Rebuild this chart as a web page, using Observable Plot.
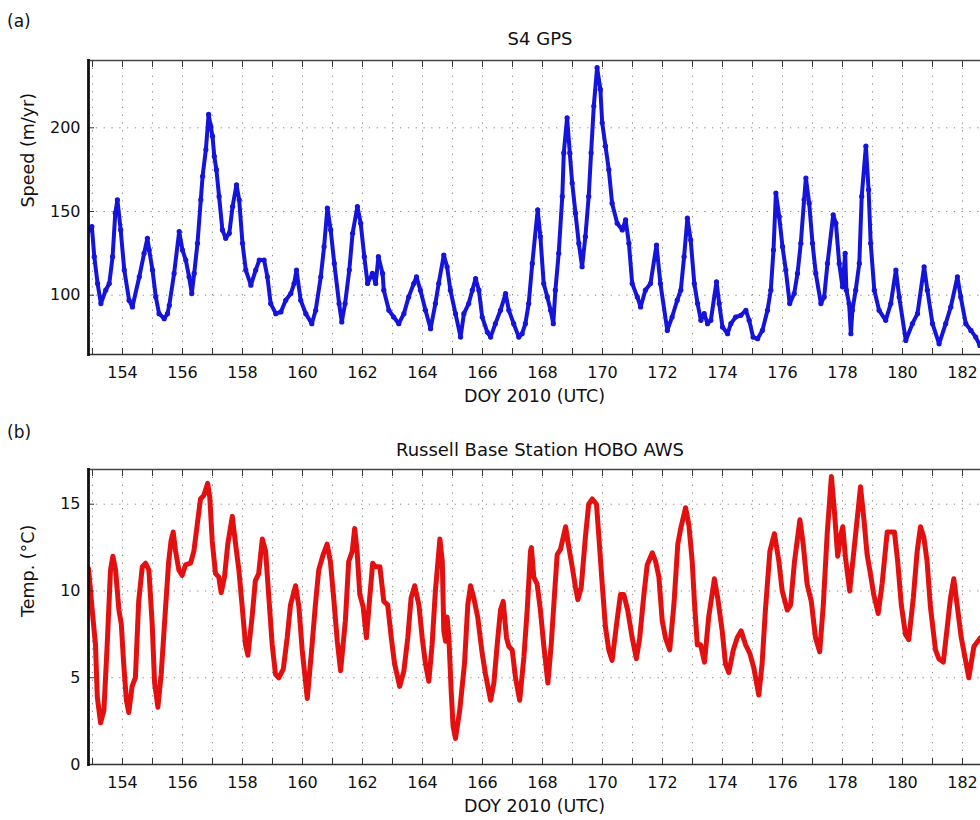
<!DOCTYPE html>
<html>
<head>
<meta charset="utf-8">
<script src="https://cdn.jsdelivr.net/npm/d3@7"></script>
<script src="https://cdn.jsdelivr.net/npm/@observablehq/plot@0.6"></script>
<style>
  html, body { margin: 0; padding: 0; background: #fff; }
  #wrap { position: relative; width: 980px; height: 820px; overflow: hidden; font-family: "DejaVu Sans", sans-serif; color: #111; }
  .panel { position: absolute; left: 0; }
  .tag { position: absolute; left: 7px; font-size: 17px; line-height: 17px; }
  .title { position: absolute; left: 290px; width: 500px; text-align: center; font-size: 18px; line-height: 18px; }
</style>
</head>
<body>
<div id="wrap">
  <div id="pa" class="panel" style="top:0px"></div>
  <div id="pb" class="panel" style="top:410px"></div>
  <div class="tag" style="top:13px">(a)</div>
  <div class="title" style="top:30px">S4 GPS</div>
  <div class="tag" style="top:424px">(b)</div>
  <div class="title" style="top:441px">Russell Base Station HOBO AWS</div>
</div>
<script>
// ---- Data ----
const gpsDay = [152.9,152.98,153.06,153.17,153.28,153.44,153.56,153.67,153.76,153.83,153.94,154.06,154.22,154.33,154.56,154.72,154.83,154.89,155.0,155.11,155.22,155.39,155.5,155.56,155.72,155.89,156.0,156.11,156.22,156.31,156.39,156.5,156.61,156.67,156.78,156.87,156.94,157.0,157.06,157.13,157.22,157.33,157.44,157.56,157.67,157.8,157.89,158.0,158.11,158.28,158.44,158.56,158.72,158.83,158.94,159.11,159.28,159.44,159.61,159.72,159.8,159.94,160.11,160.31,160.44,160.61,160.72,160.83,160.94,161.06,161.22,161.31,161.42,161.56,161.67,161.83,161.94,162.06,162.17,162.33,162.44,162.53,162.67,162.71,162.88,163.04,163.21,163.38,163.54,163.71,163.8,163.93,164.1,164.27,164.43,164.54,164.71,164.82,164.93,165.1,165.27,165.38,165.54,165.66,165.77,165.88,165.99,166.16,166.27,166.43,166.6,166.77,166.88,167.04,167.21,167.32,167.43,167.54,167.66,167.84,167.93,168.04,168.16,168.27,168.36,168.43,168.54,168.66,168.71,168.82,168.91,168.99,169.1,169.21,169.32,169.43,169.54,169.62,169.71,169.82,169.93,169.99,170.1,170.21,170.32,170.49,170.66,170.77,170.88,170.99,171.16,171.27,171.43,171.6,171.8,171.93,172.16,172.32,172.49,172.61,172.72,172.83,172.94,173.06,173.17,173.28,173.39,173.5,173.61,173.8,173.89,174.0,174.17,174.28,174.44,174.61,174.78,174.89,175.02,175.17,175.33,175.5,175.61,175.7,175.78,175.89,176.0,176.11,176.24,176.39,176.5,176.61,176.72,176.78,176.89,177.0,177.11,177.28,177.39,177.5,177.69,177.78,177.89,178.0,178.09,178.13,178.22,178.28,178.33,178.44,178.56,178.64,178.78,178.87,178.94,179.06,179.22,179.44,179.61,179.78,179.89,180.11,180.33,180.5,180.72,180.83,181.0,181.22,181.44,181.61,181.83,181.94,182.11,182.28,182.44,182.58];
const gpsSpeed = [139,141,123,107,95,103,107,123,149,157,139,115,97,93,111,125,134,127,115,99,89,86,89,94,113,138,127,121,111,101,113,131,157,171,187,208,201,195,183,175,159,139,134,137,153,166,157,131,115,106,115,121,121,111,95,89,90,97,101,107,115,97,89,83,91,111,129,152,139,119,95,84,95,115,137,153,143,123,107,113,107,123,113,103,91,87,83,89,99,107,111,103,91,80,95,107,124,117,103,89,75,89,95,103,110,103,87,78,75,83,91,101,91,83,75,77,83,95,119,151,135,107,99,91,83,103,125,159,185,206,185,167,149,131,117,135,159,185,213,236,223,203,189,175,155,143,139,145,131,107,99,93,103,107,130,107,79,87,97,103,123,146,133,107,95,85,89,83,85,108,95,81,77,83,87,88,91,85,75,74,79,91,103,127,161,147,129,115,95,101,113,131,157,170,155,131,113,95,99,119,148,143,119,105,125,103,95,77,91,103,119,159,189,163,131,103,91,85,95,115,99,73,83,89,117,103,83,71,83,93,111,99,83,79,75,70];

const tempDay = [152.87,152.99,153.1,153.16,153.27,153.38,153.49,153.6,153.68,153.77,153.88,153.96,154.04,154.13,154.21,154.32,154.43,154.54,154.66,154.77,154.88,154.99,155.07,155.18,155.29,155.43,155.54,155.62,155.69,155.77,155.88,155.99,156.1,156.27,156.38,156.49,156.6,156.71,156.84,156.91,156.99,157.1,157.21,157.29,157.4,157.51,157.66,157.77,157.88,157.99,158.1,158.18,158.32,158.43,158.54,158.66,158.77,158.88,158.99,159.1,159.21,159.36,159.49,159.6,159.77,159.88,159.99,160.16,160.32,160.43,160.54,160.69,160.82,160.93,161.04,161.16,161.27,161.43,161.54,161.66,161.74,161.82,161.91,162.02,162.13,162.24,162.34,162.43,162.58,162.71,162.84,162.96,163.07,163.24,163.38,163.51,163.62,163.74,163.88,163.99,164.1,164.21,164.32,164.43,164.58,164.66,164.71,164.77,164.82,164.88,164.96,165.02,165.1,165.24,165.4,165.51,165.6,165.71,165.84,165.99,166.1,166.27,166.38,166.49,166.6,166.69,166.8,166.88,166.99,167.1,167.24,167.38,167.49,167.6,167.63,167.71,167.82,167.93,168.04,168.18,168.29,168.4,168.49,168.6,168.77,168.88,168.99,169.1,169.18,169.29,169.43,169.54,169.66,169.8,169.88,169.99,170.1,170.21,170.32,170.47,170.6,170.71,170.84,170.99,171.13,171.24,171.38,171.49,171.66,171.77,171.88,171.99,172.1,172.24,172.38,172.51,172.62,172.77,172.88,172.99,173.07,173.16,173.27,173.4,173.54,173.73,173.84,173.99,174.1,174.21,174.36,174.49,174.62,174.77,174.91,175.04,175.21,175.32,175.43,175.58,175.73,175.88,175.99,176.16,176.27,176.4,176.58,176.69,176.82,176.96,177.1,177.24,177.36,177.49,177.63,177.73,177.84,177.93,178.01,178.1,178.24,178.38,178.6,178.71,178.82,178.93,179.04,179.19,179.32,179.49,179.6,179.73,179.84,179.96,180.1,180.21,180.36,180.49,180.6,180.71,180.82,180.93,181.1,181.21,181.36,181.49,181.6,181.71,181.82,181.96,182.21,182.38,182.6];
const tempC = [11.3,8.9,6.9,3.9,2.4,3.1,6.9,11.2,12.0,11.2,8.9,8.1,5.8,3.7,3.0,4.5,5.0,9.4,11.4,11.6,11.2,8.1,4.7,3.3,5.2,8.9,11.7,12.9,13.4,12.3,11.2,10.9,11.5,11.6,12.3,13.8,15.3,15.5,16.2,15.4,12.9,11.0,10.8,9.9,10.8,12.7,14.3,12.7,11.2,9.1,6.9,6.3,8.5,10.6,11.0,13.0,12.3,9.6,6.9,5.2,5.0,5.5,7.3,9.2,10.3,9.1,6.6,3.8,6.9,9.2,11.2,12.1,12.7,11.7,9.6,7.1,5.4,8.3,11.7,12.3,13.6,12.3,9.8,9.1,7.3,9.6,11.6,11.4,11.4,9.4,9.2,7.3,5.8,4.5,5.4,7.3,9.6,10.3,9.2,7.3,5.8,4.8,6.9,10.0,13.0,11.7,7.7,7.1,8.5,7.3,4.1,2.2,1.5,3.1,5.8,9.2,10.3,9.6,8.5,6.4,5.2,3.7,4.7,6.9,8.9,9.4,7.3,6.8,6.6,5.0,3.7,6.2,8.9,12.3,12.5,10.8,10.4,8.9,6.9,4.7,6.9,9.8,12.1,12.4,13.7,12.5,11.4,10.2,9.5,10.2,13.1,15.0,15.3,15.0,13.1,10.4,7.9,6.6,6.0,8.1,9.8,9.8,8.9,7.3,6.1,7.3,9.8,11.5,12.2,11.7,10.8,8.3,7.3,6.6,9.2,12.7,13.7,14.8,13.8,11.7,9.2,6.9,6.9,5.9,8.5,10.7,9.6,7.7,5.8,5.3,6.6,7.3,7.7,6.9,6.4,5.6,4.0,5.8,8.9,12.3,13.3,11.7,10.0,8.9,9.2,11.7,14.1,12.7,10.4,9.4,7.3,6.5,9.2,13.3,16.6,14.6,12.0,13.1,13.7,11.9,10.0,12.3,16.0,14.2,12.1,11.0,9.8,8.7,10.4,13.4,13.4,13.4,11.7,9.2,7.5,7.2,9.6,12.3,13.7,13.1,11.7,9.1,6.6,6.1,5.9,7.9,9.6,10.7,9.2,7.3,5.0,6.8,7.3];

const dayTicks = [153,154,155,156,157,158,159,160,161,162,163,164,165,166,167,168,169,170,171,172,173,174,175,176,177,178,179,180,181,182];
const dayLabels = [154,156,158,160,162,164,166,168,170,172,174,176,178,180,182];
const speedTicks = [100,150,200];
const tempTicks = [0,5,10,15];
const xDomain = [152.867, 182.6];
const speedDomain = [64.6, 240.2];
const tempDomain = [0, 17];

const blue = "#1414dc";
const red = "#e3100f";
const gridStyle = {stroke: "#8a8a8a", strokeOpacity: 1, strokeWidth: 1, strokeDasharray: "1.3,6.5"};

function panel({yDomain, yTicks, series, xKey, yKey, color, yLabel, dots, marginTop}) {
  const marks = [
    Plot.gridX(dayTicks, gridStyle),
    Plot.gridY(yTicks, gridStyle),
    Plot.line(series, {x: xKey, y: yKey, stroke: color, strokeWidth: dots ? 4 : 5, strokeLinejoin: "round", clip: true}),
  ];
  if (dots) marks.push(Plot.dot(series, {x: xKey, y: yKey, r: 2.6, fill: color, stroke: "none", clip: true}));
  marks.push(
    Plot.axisX(dayTicks, {anchor: "bottom", tickSize: -6, tickFormat: () => "", label: null, stroke: "#333"}),
    Plot.axisX(dayTicks, {anchor: "top", tickSize: -6, tickFormat: () => "", label: null, stroke: "#333"}),
    Plot.axisX(dayLabels, {anchor: "bottom", tickSize: 0, tickPadding: 12, label: null, fontSize: 16, fill: "#111"}),
    Plot.axisY(yTicks, {anchor: "left", tickSize: -6, tickFormat: () => "", label: null, stroke: "#333"}),
    Plot.axisY(yTicks, {anchor: "left", tickSize: 0, tickPadding: 8, label: null, fontSize: 16, fill: "#111"}),
    Plot.text(["DOY 2010 (UTC)"], {frameAnchor: "bottom", dy: 47, fontSize: 17.5, fill: "#111"}),
    Plot.text([yLabel], {frameAnchor: "left", rotate: -90, dx: -60, fontSize: 17.5, fill: "#111"}),
    Plot.frame({anchor: "top", stroke: "#444", strokeWidth: 1.4}),
    Plot.frame({anchor: "bottom", stroke: "#333", strokeWidth: 1.6}),
    Plot.frame({anchor: "left", stroke: "#111", strokeWidth: 2.8})
  );
  return Plot.plot({
    width: 980,
    height: 410,
    marginLeft: 88,
    marginRight: 0,
    marginTop,
    marginBottom: 56,
    style: {fontFamily: "'DejaVu Sans', sans-serif", fontSize: "16px", background: "transparent", overflow: "visible", color: "#111"},
    x: {domain: xDomain},
    y: {domain: yDomain},
    marks
  });
}

const gps = gpsDay.map((d, i) => ({day: d, speed: gpsSpeed[i]}));
const temp = tempDay.map((d, i) => ({day: d, temp: tempC[i]}));

document.getElementById("pa").append(panel({
  yDomain: speedDomain, yTicks: speedTicks, series: gps, xKey: "day", yKey: "speed",
  color: blue, yLabel: "Speed (m/yr)", dots: true, marginTop: 60
}));
document.getElementById("pb").append(panel({
  yDomain: tempDomain, yTicks: tempTicks, series: temp, xKey: "day", yKey: "temp",
  color: red, yLabel: "Temp. (°C)", dots: false, marginTop: 59
}));
</script>
</body>
</html>
